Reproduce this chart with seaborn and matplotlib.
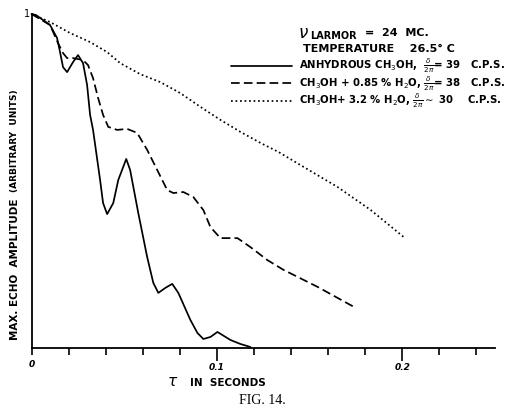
import numpy as np
import pandas as pd
import seaborn as sns
import matplotlib
matplotlib.use("Agg")
import matplotlib.pyplot as plt

sns.set_style("white")
plt.rcParams['font.family'] = ['DejaVu Sans']
plt.rcParams['mathtext.fontset'] = 'dejavusans'
plt.rcParams.update({"text.color": "black", "axes.edgecolor": "black",
                     "xtick.color": "black", "ytick.color": "black",
                     "axes.labelcolor": "black"})

# values: tau in seconds, echo amplitude (arbitrary units)
tau_anhydrous = [0, 0.0024, 0.0100, 0.0138, 0.0154, 0.0170, 0.0192, 0.0224, 0.0251, 0.0278,
                 0.0300, 0.0316, 0.0332, 0.0370, 0.0386, 0.0408, 0.0441, 0.0468, 0.0511,
                 0.0532, 0.0576, 0.0624, 0.0657, 0.0684, 0.0722, 0.0759, 0.0792, 0.0857,
                 0.0895, 0.0927, 0.0965, 0.1003, 0.1073, 0.1127, 0.1181]
amp_anhydrous = [1.0, 0.997, 0.967, 0.928, 0.886, 0.841, 0.826, 0.856, 0.877, 0.853,
                 0.787, 0.698, 0.653, 0.503, 0.434, 0.401, 0.434, 0.503, 0.566,
                 0.533, 0.404, 0.272, 0.195, 0.165, 0.180, 0.192, 0.165, 0.084,
                 0.045, 0.027, 0.033, 0.048, 0.024, 0.012, 0.003]

tau_085 = [0, 0.0100, 0.0143, 0.0170, 0.0192, 0.0224, 0.0278, 0.0305, 0.0332, 0.0359,
           0.0386, 0.0414, 0.0462, 0.0516, 0.0570, 0.0624, 0.0678, 0.0732, 0.0765,
           0.0819, 0.0873, 0.0927, 0.0965, 0.1019, 0.1111, 0.1181, 0.1273, 0.1359,
           0.1543, 0.1749]
amp_085 = [1.0, 0.967, 0.913, 0.883, 0.868, 0.868, 0.862, 0.847, 0.808, 0.749,
           0.698, 0.662, 0.653, 0.656, 0.644, 0.593, 0.533, 0.473, 0.464,
           0.467, 0.452, 0.413, 0.362, 0.329, 0.329, 0.302, 0.263, 0.234,
           0.183, 0.120]

tau_32 = [0, 0.0100, 0.0208, 0.0316, 0.0408, 0.0478, 0.0586, 0.0695, 0.0803, 0.0911,
          0.1019, 0.1127, 0.1235, 0.1332, 0.1468, 0.1651, 0.1830, 0.2008]
amp_32 = [1.0, 0.976, 0.943, 0.916, 0.886, 0.853, 0.820, 0.796, 0.763, 0.722,
          0.683, 0.647, 0.614, 0.587, 0.542, 0.482, 0.413, 0.332]

labels = [r"ANHYDROUS CH$_3$OH,  $\frac{\delta}{2\pi}$= 39   C.P.S.",
          r"CH$_3$OH + 0.85 % H$_2$O, $\frac{\delta}{2\pi}$= 38   C.P.S.",
          r"CH$_3$OH+ 3.2 % H$_2$O, $\frac{\delta}{2\pi}$$\sim$ 30    C.P.S."]

df = pd.concat([
    pd.DataFrame({"tau": tau_anhydrous, "amp": amp_anhydrous, "series": labels[0]}),
    pd.DataFrame({"tau": tau_085, "amp": amp_085, "series": labels[1]}),
    pd.DataFrame({"tau": tau_32, "amp": amp_32, "series": labels[2]}),
])

W, H = 523, 412
fig = plt.figure(figsize=(W / 100, H / 100), dpi=100)
ax = fig.add_axes([31.5 / W, 1 - 348 / H, (495 - 31.5) / W, (348 - 14) / H])

styles = {labels[0]: "", labels[1]: (5.0, 2.4), labels[2]: (1.0, 1.6)}
for lab in labels:
    sns.lineplot(data=df[df.series == lab], x="tau", y="amp", color="black",
                 lw=1.25, sort=False, estimator=None, label=lab, ax=ax, clip_on=False,
                 solid_joinstyle="round", dash_joinstyle="round")
    if styles[lab]:
        ax.get_lines()[-1].set_dashes(styles[lab])

ax.set_xlim(0, 0.25)
ax.set_ylim(0, 1.0)
sns.despine(ax=ax)
ax.spines["left"].set_linewidth(1.3)
ax.spines["bottom"].set_linewidth(1.3)

ax.set_xticks([0.1, 0.2])
ax.set_xticklabels(["0.1", "0.2"], fontsize=6.5, fontweight="bold", style="italic")
ax.set_xticks(np.arange(0, 0.25, 0.02), minor=True)
ax.tick_params(axis="x", which="major", direction="out", length=9, width=1.2, pad=2, bottom=True)
ax.tick_params(axis="x", which="minor", direction="out", length=5, width=1.2, bottom=True)
ax.set_yticks([])
ax.set_xlabel("")
ax.set_ylabel("")

ax.text(0, -0.035, "0", transform=ax.transData, ha="center", va="top",
        fontsize=6.5, fontweight="bold", style="italic")
ax.text(-0.0005, 1.0, "1", ha="right", va="center", fontsize=7)

def fx(px):
    return px / W

def fy(py):
    return 1 - py / H

fig.text(fx(173), fy(382), r"$\tau$", ha="center", va="center", fontsize=11)
fig.text(fx(228), fy(383), "IN  SECONDS", ha="center", va="center",
         fontsize=7.5, fontweight="bold")
fig.text(fx(15), fy(269), "MAX. ECHO  AMPLITUDE", rotation=90, ha="center", va="center",
         fontsize=7.5, fontweight="bold")
fig.text(fx(15), fy(141), "(ARBITRARY  UNITS)", rotation=90, ha="center", va="center",
         fontsize=6.5, fontweight="bold")
fig.text(fx(262), fy(400), "FIG. 14.", ha="center", va="center", fontsize=10,
         family="Liberation Serif")

fig.text(fx(298), fy(33), r"$\nu$", ha="left", va="center", fontsize=12, style="italic")
fig.text(fx(310), fy(36), "LARMOR", ha="left", va="center", fontsize=7, fontweight="bold")
fig.text(fx(365), fy(33), "=  24  MC.", ha="left", va="center", fontsize=8, fontweight="bold")
fig.text(fx(303), fy(49), "TEMPERATURE    26.5° C", ha="left", va="center", fontsize=8,
         fontweight="bold")

ax.legend(loc="upper left", bbox_to_anchor=(fx(231), fy(57)), bbox_transform=fig.transFigure,
          frameon=False, handlelength=6.0, handletextpad=0.7,
          labelspacing=-0.1, borderpad=0, borderaxespad=0,
          prop={"weight": "bold", "size": 7.3})

fig.savefig("out.png", dpi=100)
